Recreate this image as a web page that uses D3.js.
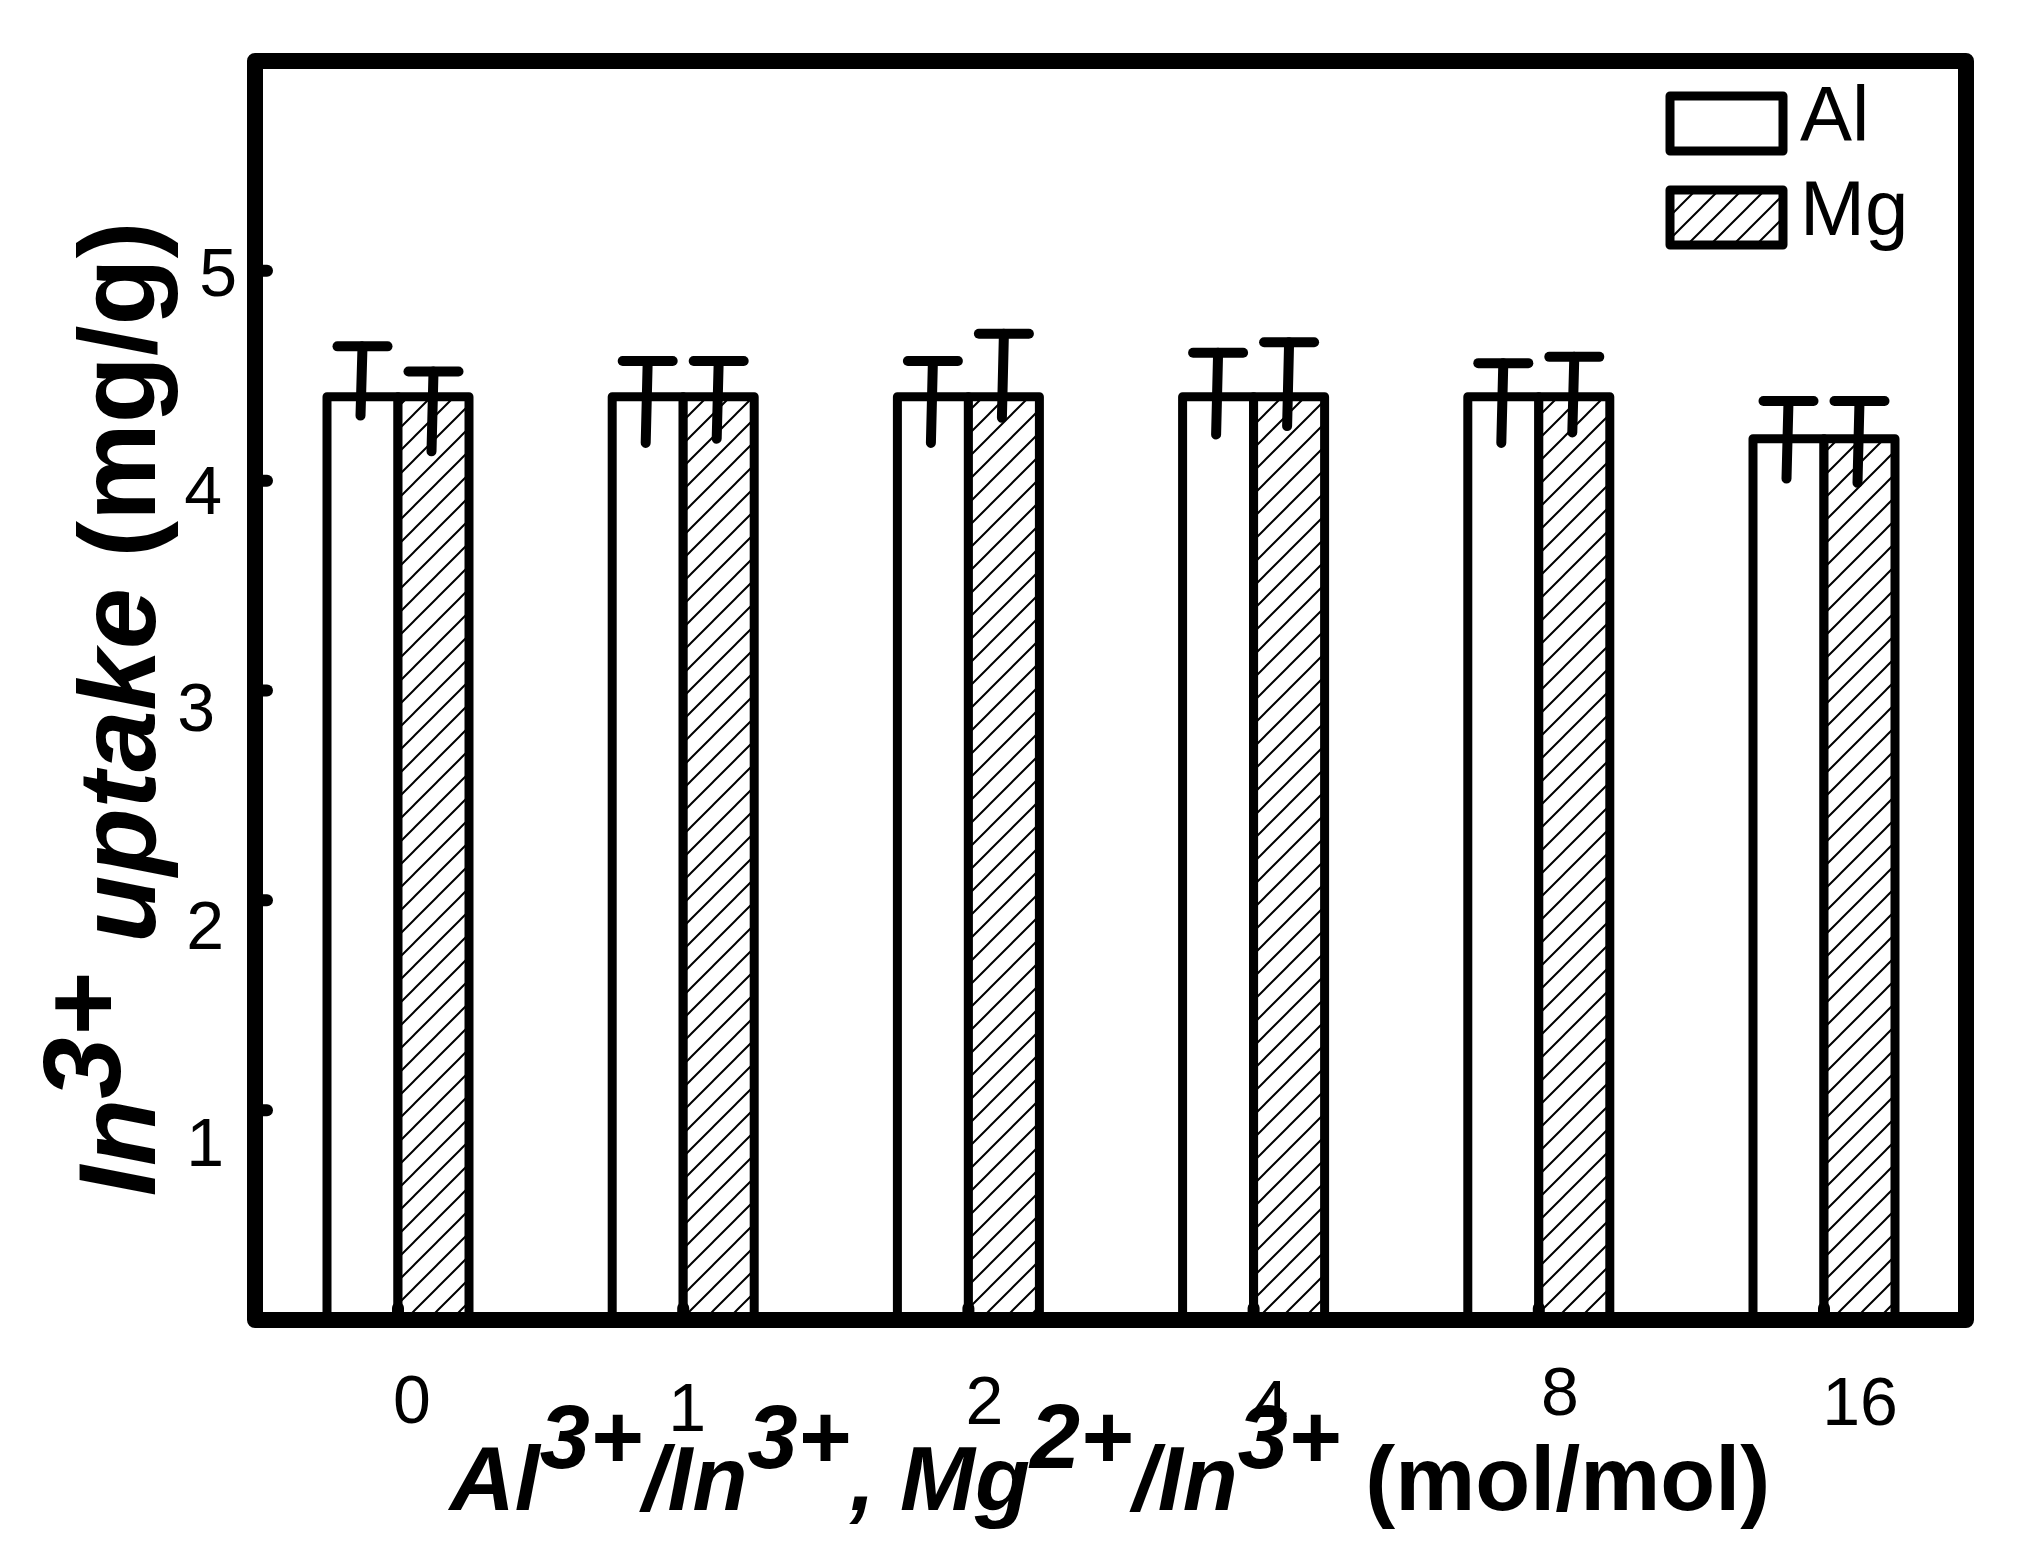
<!DOCTYPE html>
<html>
<head>
<meta charset="utf-8">
<script src="https://cdn.jsdelivr.net/npm/d3@7"></script>
<style>
  body { margin: 0; background: #fff; }
  svg text { font-family: "Liberation Sans", Arial, sans-serif; fill: #000; }
</style>
</head>
<body>
<svg id="chart" width="2022" height="1560"></svg>
<script>
// data
const categories = ["0", "1", "2", "4", "8", "16"];
const seriesNames = ["Al", "Mg"];
const alValues = [4.40, 4.40, 4.40, 4.40, 4.40, 4.20];
const mgValues = [4.40, 4.40, 4.40, 4.40, 4.40, 4.20];
const alErrHigh = [4.64, 4.57, 4.57, 4.61, 4.56, 4.38];
const alErrLow = [4.31, 4.18, 4.18, 4.22, 4.18, 4.01];
const mgErrHigh = [4.52, 4.57, 4.70, 4.66, 4.59, 4.38];
const mgErrLow = [4.14, 4.20, 4.30, 4.26, 4.23, 3.99];
const yTicks = [1, 2, 3, 4, 5];

// hand placed label nudges in the original figure (layout only)
const xLabelNudge = [[14, 22], [4, 30], [16, 23], [16, 27], [21, 14], [36, 24]];
const yLabelNudge = [-2, -2, -11, -4, 11];

let svg = d3.select("#chart");

let frameL = 255, frameR = 1966, frameT = 61, frameB = 1320;
let barW = 71;

let x = d3.scalePoint().domain(categories).range([398, 1824]);
let y = d3.scaleLinear().domain([0, 6]).range([frameB, frameT]);
// tick labels sit on a slightly stretched grid in the original
let yLab = d3.scaleLinear().domain([1, 5]).range([1142, 272]);

let defs = svg.append("defs");
let pat = defs.append("pattern")
    .attr("id", "hatch")
    .attr("patternUnits", "userSpaceOnUse")
    .attr("width", 23).attr("height", 23);
pat.append("rect").attr("width", 23).attr("height", 23).attr("fill", "#fff");
pat.append("path")
    .attr("d", "M-3,3 L3,-3 M0,23 L23,0 M20,26 L26,20")
    .attr("stroke", "#000")
    .attr("stroke-width", 2);

let series = [
    { name: "Al", values: alValues, hi: alErrHigh, lo: alErrLow, off: -barW / 2, fill: "#fff" },
    { name: "Mg", values: mgValues, hi: mgErrHigh, lo: mgErrLow, off: barW / 2, fill: "url(#hatch)" }
];

// bars
series.forEach(s => {
    svg.append("g").selectAll("rect")
        .data(categories).enter()
        .append("rect")
        .attr("x", (d) => x(d) + s.off - barW / 2)
        .attr("y", (d, i) => y(s.values[i]))
        .attr("width", barW)
        .attr("height", (d, i) => y(0) - y(s.values[i]))
        .attr("fill", s.fill)
        .attr("stroke", "#000")
        .attr("stroke-width", 9)
        .attr("stroke-linejoin", "round");
});

// error bars
series.forEach(s => {
    let g = svg.append("g")
        .attr("stroke", "#000")
        .attr("stroke-width", 10)
        .attr("stroke-linecap", "round");
    g.selectAll(".stem")
        .data(categories).enter()
        .append("line")
        .attr("x1", (d) => x(d) + s.off)
        .attr("x2", (d) => x(d) + s.off - 2)
        .attr("y1", (d, i) => y(s.hi[i]))
        .attr("y2", (d, i) => y(s.lo[i]));
    g.selectAll(".cap")
        .data(categories).enter()
        .append("line")
        .attr("x1", (d) => x(d) + s.off - 25)
        .attr("x2", (d) => x(d) + s.off + 25)
        .attr("y1", (d, i) => y(s.hi[i]))
        .attr("y2", (d, i) => y(s.hi[i]));
});

// frame
svg.append("rect")
    .attr("x", frameL).attr("y", frameT)
    .attr("width", frameR - frameL).attr("height", frameB - frameT)
    .attr("fill", "none")
    .attr("stroke", "#000")
    .attr("stroke-width", 16)
    .attr("stroke-linejoin", "round");

// tick nubs
svg.append("g").selectAll("line")
    .data(yTicks).enter()
    .append("line")
    .attr("x1", frameL).attr("x2", frameL + 12)
    .attr("y1", (d) => y(d)).attr("y2", (d) => y(d))
    .attr("stroke", "#000").attr("stroke-width", 12).attr("stroke-linecap", "round");

svg.append("g").selectAll("line")
    .data(categories).enter()
    .append("line")
    .attr("x1", (d) => x(d)).attr("x2", (d) => x(d))
    .attr("y1", frameB).attr("y2", frameB - 12)
    .attr("stroke", "#000").attr("stroke-width", 12).attr("stroke-linecap", "round");

// tick labels
svg.append("g").selectAll("text")
    .data(yTicks).enter()
    .append("text")
    .attr("x", (d, i) => 226 + yLabelNudge[i])
    .attr("y", (d) => yLab(d) + 24)
    .attr("text-anchor", "end")
    .attr("font-size", 68)
    .text((d) => d);

svg.append("g").selectAll("text")
    .data(categories).enter()
    .append("text")
    .attr("x", (d, i) => x(d) + xLabelNudge[i][0])
    .attr("y", (d, i) => 1401 + xLabelNudge[i][1])
    .attr("text-anchor", "middle")
    .attr("font-size", 68)
    .text((d) => d);

// x title
let xt = svg.append("text")
    .attr("x", 1110).attr("y", 1510)
    .attr("text-anchor", "middle")
    .attr("font-size", 90)
    .attr("font-weight", "bold");
let xParts = [
    ["Al", 0, true], ["3+", -42, true], ["/In", 42, true], ["3+", -42, true],
    [", Mg", 42, true], ["2+", -42, true], ["/In", 42, true], ["3+", -42, true],
    [" (mol/mol)", 42, false]
];
xParts.forEach(p => {
    xt.append("tspan")
        .attr("dy", p[1])
        .attr("font-style", p[2] ? "italic" : "normal")
        .text(p[0]);
});

// y title
let yt = svg.append("text")
    .attr("transform", "translate(155,709) rotate(-90)")
    .attr("text-anchor", "middle")
    .attr("font-size", 110)
    .attr("font-weight", "bold");
let yParts = [["In", 0, true], ["3+", -35, true], [" uptake", 35, true], [" (mg/g)", 0, false]];
yParts.forEach(p => {
    yt.append("tspan")
        .attr("dy", p[1])
        .attr("font-style", p[2] ? "italic" : "normal")
        .text(p[0]);
});

// legend
let legend = svg.append("g");
seriesNames.forEach((name, i) => {
    legend.append("rect")
        .attr("x", 1670).attr("y", 96 + i * 94)
        .attr("width", 113).attr("height", 55)
        .attr("fill", i === 0 ? "#fff" : "url(#hatch)")
        .attr("stroke", "#000")
        .attr("stroke-width", 9)
        .attr("stroke-linejoin", "round");
    legend.append("text")
        .attr("x", 1800).attr("y", 141 + i * 94)
        .attr("font-size", 78)
        .text(name);
});
</script>
</body>
</html>
